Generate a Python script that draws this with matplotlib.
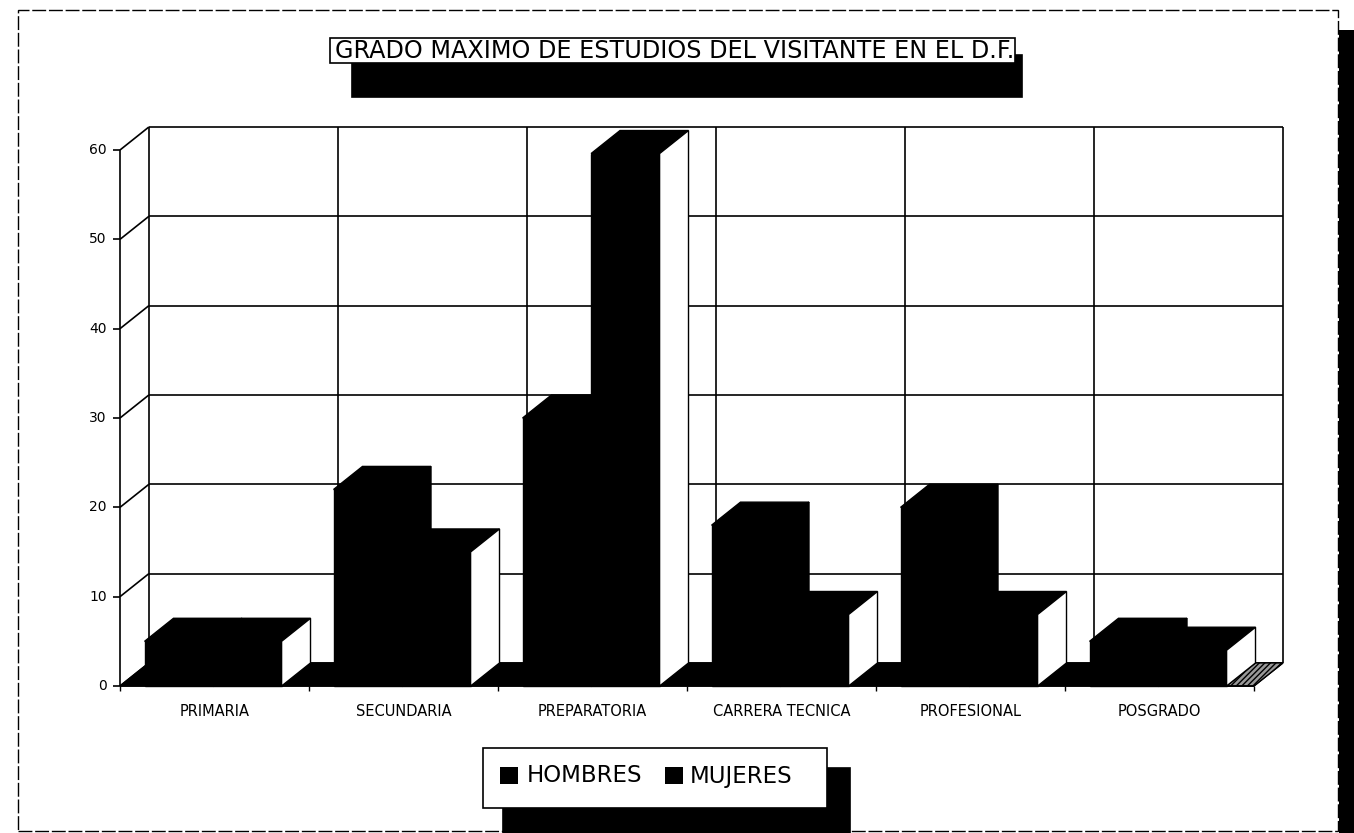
# Grado maximo de estudios - 3d column chart (scanned look)

import numpy as np
import matplotlib
matplotlib.use('Agg')
import matplotlib.pyplot as plt
from matplotlib.patches import Polygon, Rectangle

# Data
categorias = ['PRIMARIA', 'SECUNDARIA', 'PREPARATORIA', 'CARRERA TECNICA',
              'PROFESIONAL', 'POSGRADO']
hombres = [5, 22, 30, 18, 20, 5]
mujeres = [5, 15, 59.6, 8, 8, 4]
series = ['HOMBRES', 'MUJERES']
yticks = [0, 10, 20, 30, 40, 50, 60]
titulo = 'GRADO MAXIMO DE ESTUDIOS DEL VISITANTE EN EL D.F.'

W, H = 1354, 833
DX, DY = 0.153, 2.58      # depth of the 3d box in data units
OFF, BW = 0.13, 0.3625    # bar offset inside a category and bar width

def fx(x): return x / W
def fy(y): return 1 - y / H

fig = plt.figure(figsize=(W / 100, H / 100), dpi=100)
fig.patch.set_facecolor('white')
ax = fig.add_axes([fx(120), fy(686), 1134 / W, 536 / H])
n = len(categorias)
top = yticks[-1]
ax.set_xlim(0, n)
ax.set_ylim(0, top)
ax.axis('off')

def line(xs, ys, lw=1.2, z=1):
    ax.plot(xs, ys, color='k', lw=lw, clip_on=False, zorder=z,
            solid_capstyle='butt')

def poly(pts, fc, z, **kw):
    ax.add_patch(Polygon(pts, closed=True, fc=fc, ec='k', lw=1,
                         clip_on=False, zorder=z, **kw))

# back wall and side wall
for v in yticks:
    line([DX, n + DX], [v + DY, v + DY])
    line([0, DX], [v, v + DY])
for i in range(n + 1):
    line([i + DX, i + DX], [DY, top + DY])

# black floor, hatched piece after the last bar
poly([(0, 0), (n, 0), (n + DX, DY), (DX, DY)], 'k', 2)
xe = n - 1 + OFF + 2 * BW
poly([(xe, 0), (n, 0), (n + DX, DY), (xe + DX, DY)], '0.6', 2.5,
     hatch='//////')

def barra(x0, h, side, z):
    x1 = x0 + BW
    poly([(x0, 0), (x1, 0), (x1, h), (x0, h)], 'k', z)
    poly([(x0, h), (x1, h), (x1 + DX, h + DY), (x0 + DX, h + DY)], 'k', z)
    poly([(x1, 0), (x1 + DX, DY), (x1 + DX, h + DY), (x1, h)], side, z)

for i in range(n):
    barra(i + OFF, hombres[i], 'k', 3)
    barra(i + OFF + BW, mujeres[i], 'white', 4)

# front axes
line([0, 0], [0, top], z=5)
line([0, n], [0, 0], z=5)
for v in yticks:
    line([-0.037, 0], [v, v], z=5)
    ax.text(-0.07, v, str(v), ha='right', va='center', fontsize=10,
            family='DejaVu Sans')
for i in range(n + 1):
    line([i, i], [0, -0.6], lw=1, z=5)
for i, c in enumerate(categorias):
    ax.text(i + 0.5, -2.8, c, ha='center', va='center', fontsize=10.5,
            family='DejaVu Sans')

def ajustar(t, ancho):
    fig.canvas.draw()
    w = t.get_window_extent().width
    t.set_fontsize(t.get_fontsize() * ancho / w)

def caja(x0, y0, x1, y1, fc, lw=1.2, **kw):
    fig.patches.append(Rectangle((fx(x0), fy(y1)), fx(x1) - fx(x0),
                                 (y1 - y0) / H, transform=fig.transFigure,
                                 fc=fc, ec='k', lw=lw, **kw))

# outer frame with shadow
caja(18, 10, 1338, 831, 'none', lw=1, ls=(0, (10, 2)))
caja(1339, 30, 1354, 833, 'k', lw=0)

# title
caja(352, 55, 1022, 97, 'k')
caja(330, 38, 1015, 63, 'white')
t = fig.text(fx(335), fy(51), titulo, ha='left', va='center', fontsize=14,
             family='DejaVu Sans')
ajustar(t, 677)

# legend
caja(503, 768, 850, 833, 'k')
caja(483, 748, 827, 808, 'white')
tam = None
for sx, tx, s in [(500, 527, series[0]), (665, 690, series[1])]:
    caja(sx, 767, sx + 18, 784, 'k', lw=0)
    lt = fig.text(fx(tx), fy(776), s, ha='left', va='center', fontsize=17,
                  family='DejaVu Sans')
    if tam is None:
        ajustar(lt, 116)
        tam = lt.get_fontsize()
    else:
        lt.set_fontsize(tam)

fig.savefig('out.png', dpi=100)
